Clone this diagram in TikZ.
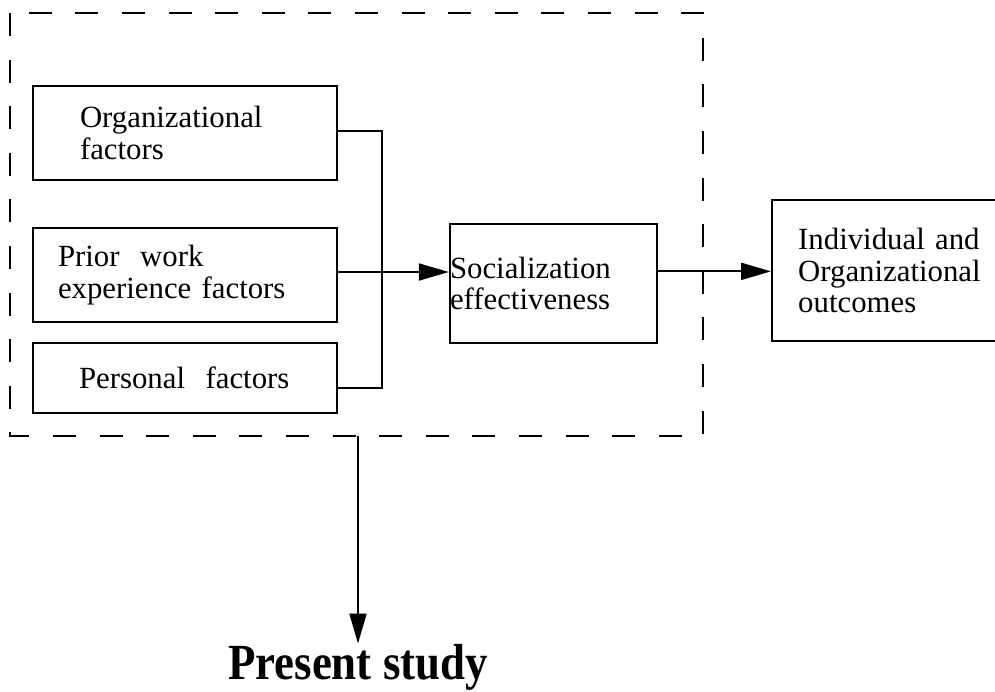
\documentclass[tikz,border=0pt]{standalone}
\usepackage{fontspec}
\setmainfont{Liberation Serif}
\usetikzlibrary{arrows.meta,calc}

\begin{document}
\begin{tikzpicture}[x=0.5pt, y=-0.5pt,
  factor/.style={draw, line width=1.2pt, minimum width=152pt, inner sep=0pt,
    align=left, font=\fontsize{15.4}{15.6}\selectfont},
  link/.style={line width=1pt},
  flow/.style={link, -{Triangle[length=15pt, width=8.5pt]}},
  scope frame/.style={line width=1.2pt, dash pattern=on 11.5pt off 11.8pt}
  ]
  \clip (0,0) rectangle (995,691);
  % dashed frame round the present study
  \draw[scope frame] (10,13) rectangle (703,436);

  \node[factor, minimum height=47pt, text width=105pt] (org) at (185,133) {Organizational\\factors};
  \node[factor, minimum height=47pt, text width=127pt] (prior) at (185,275) {Prior\ \ work\\experience factors};
  \node[factor, minimum height=35pt, text width=106pt] (pers) at (185,378) {Personal\ \ factors};
  \node[factor, minimum width=103.5pt, minimum height=59.5pt, text width=103.5pt] (soc) at (553.5,283.5) {Socialization\\effectiveness};
  \node[factor, anchor=west, minimum width=0pt, minimum height=70.5pt, text width=110pt, inner xsep=13pt] (out) at (771,270.5) {Individual and\\Organizational\\outcomes};
  \node[anchor=base, inner sep=0pt, font=\fontsize{22}{24}\selectfont] (present) at (358,679) {\scalebox{1.02}[1.15]{\bfseries Present study}};

  \coordinate (bus) at (382,0);
  \coordinate (org-out) at ($(org.north east)!0.5!(org.south east)+(0,-2)$);
  \coordinate (prior-out) at ($(prior.north east)!0.5!(prior.south east)+(0,-3)$);
  \coordinate (pers-out) at ($(pers.north east)!0.64!(pers.south east)$);
  \coordinate (soc-out) at ($(soc.north east)!0.4!(soc.south east)$);
  \coordinate (drop) at (358,436);

  \draw[link] (org-out) -- (org-out -| bus) |- (pers-out);
  \draw[flow] (prior-out) -- (prior-out -| soc.west);
  \draw[flow] (soc-out) -- (soc-out -| out.west);
  \draw[flow] (drop) -- (present.north);
\end{tikzpicture}
\end{document}
